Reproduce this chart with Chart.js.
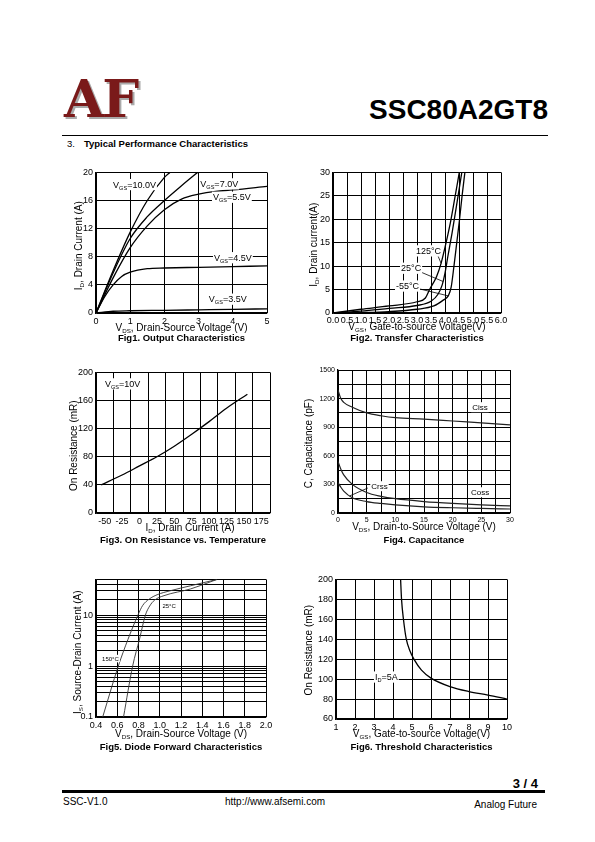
<!DOCTYPE html>
<html>
<head>
<meta charset="utf-8">
<script src="https://cdn.jsdelivr.net/npm/chart.js@4.4.0/dist/chart.umd.min.js"></script>
<style>
  body { margin: 0; background: #fff; }
  #page { position: relative; width: 595px; height: 842px; overflow: hidden; background: #fff;
          font-family: 'Liberation Sans', Arial, sans-serif; color: #000; }
  #page div { position: absolute; line-height: 1; white-space: nowrap; }
  canvas { position: absolute; }
  .logo { left: 64px; top: 73px; font-family: 'DejaVu Serif', serif; font-weight: bold; font-size: 52px;
          color: #7a1a1a; letter-spacing: -2px; text-shadow: 2px 2px 0 #aaa; }
  .pn { right: 47px; top: 96px; font-size: 28px; font-weight: bold; }
  .rule1 { left: 62px; top: 135px; width: 486px; height: 1px; background: #000; }
  .sec { left: 67px; top: 138.7px; font-size: 9.5px; }
  .sec b { margin-left: 9px; }
  .pg { right: 57px; top: 777px; font-size: 13px; font-weight: bold; }
  .rule2 { left: 62px; top: 790px; width: 483px; height: 3px; background: #000; }
  .ft { font-size: 10px; top: 796.5px; }
</style>
</head>
<body>
<div id="page">
  <div class="logo">AF</div>
  <div class="pn">SSC80A2GT8</div>
  <div class="rule1"></div>
  <div class="sec">3.<b>Typical Performance Characteristics</b></div>

  <canvas id="fig1"></canvas>
  <canvas id="fig2"></canvas>
  <canvas id="fig3"></canvas>
  <canvas id="fig4"></canvas>
  <canvas id="fig5"></canvas>
  <canvas id="fig6"></canvas>

  <div class="pg">3 / 4</div>
  <div class="rule2"></div>
  <div class="ft" style="left:63px">SSC-V1.0</div>
  <div class="ft" style="left:225px">http://www.afsemi.com</div>
  <div class="ft" style="right:58px; top:799.5px">Analog Future</div>
</div>

<script>
// ---------- Fig1: output characteristics (Id vs Vds) ----------
const fig1Vds10 = [0, 0.5, 1, 1.5, 2, 2.16];
const fig1Id10  = [0, 6.0, 11.5, 16.0, 19.3, 20];
const fig1Vds7  = [0, 0.5, 1, 1.5, 2, 2.5, 2.97];
const fig1Id7   = [0, 5.7, 10.6, 13.7, 16.0, 18.1, 20];
const fig1Vds55 = [0, 0.5, 1, 1.5, 2, 2.5, 3, 3.5, 4, 5];
const fig1Id55  = [0, 5.0, 9.3, 12.4, 14.7, 16.2, 16.9, 17.3, 17.5, 18.0];
const fig1Vds45 = [0, 0.25, 0.5, 0.75, 1, 1.5, 2, 3, 4, 5];
const fig1Id45  = [0, 2.3, 4.0, 5.2, 5.8, 6.3, 6.4, 6.5, 6.6, 6.7];
const fig1Vds35 = [0, 0.5, 1, 2, 3, 4, 5];
const fig1Id35  = [0, 0.25, 0.32, 0.38, 0.45, 0.52, 0.6];
const fig1XTicks = [0, 1, 2, 3, 4, 5];
const fig1YTicks = [0, 4, 8, 12, 16, 20];

// ---------- Fig2: transfer characteristics (Id vs Vgs) ----------
const fig2Vgs125 = [0, 1, 2, 3, 3.3, 3.45, 3.7, 3.86, 4.0, 4.2, 4.35, 4.51];
const fig2Id125  = [0, 0.8, 1.5, 2.4, 3.2, 5.0, 7.8, 10.6, 14.0, 19.5, 24.5, 30];
const fig2Vgs25  = [0, 1, 2, 3, 3.5, 3.75, 3.9, 4.0, 4.1, 4.25, 4.4, 4.6];
const fig2Id25   = [0, 0.4, 1.0, 1.6, 2.5, 4.0, 6.0, 8.5, 12.0, 17.0, 22.5, 30];
const fig2VgsM55 = [0, 1, 2, 3, 3.6, 3.95, 4.12, 4.22, 4.32, 4.42, 4.52, 4.61, 4.71];
const fig2IdM55  = [0, 0.1, 0.3, 0.8, 1.5, 2.8, 3.7, 5.5, 10, 15, 20, 25, 30];
const fig2XTicks = [0, 0.5, 1, 1.5, 2, 2.5, 3, 3.5, 4, 4.5, 5, 5.5, 6];
const fig2YTicks = [0, 5, 10, 15, 20, 25, 30];

// ---------- Fig3: on resistance vs temperature ----------
const fig3Temp = [-55, -25, 0, 25, 50, 75, 100, 125, 155];
const fig3Ron  = [40, 54, 67, 80, 95, 112, 130, 149, 169];
const fig3XLabels = [-50, -25, 0, 25, 50, 75, 100, 125, 150, 175];
const fig3XGrid   = [-62.5, -37.5, -12.5, 12.5, 37.5, 62.5, 87.5, 112.5, 137.5, 162.5, 187.5];
const fig3YTicks  = [0, 40, 80, 120, 160, 200];

// ---------- Fig4: capacitance ----------
const fig4Vds  = [0, 0.5, 1, 2.5, 5, 7.5, 10, 15, 20, 25, 30];
const fig4Ciss = [1290, 1200, 1160, 1110, 1050, 1020, 1000, 985, 965, 945, 925];
const fig4Coss = [540, 460, 400, 300, 215, 175, 150, 120, 100, 85, 75];
const fig4Crss = [320, 270, 230, 160, 120, 100, 85, 65, 55, 48, 42];
const fig4XGrid = [0, 2.5, 5, 7.5, 10, 12.5, 15, 17.5, 20, 22.5, 25, 27.5, 30];
const fig4XLabels = [0, 5, 10, 15, 20, 25, 30];
const fig4YGrid = [0, 150, 300, 450, 600, 750, 900, 1050, 1200, 1350, 1500];
const fig4YLabels = [0, 300, 600, 900, 1200, 1500];

// ---------- Fig5: diode forward characteristics ----------
const fig5Vsd150 = [0.463, 0.61, 0.7, 0.795, 0.84, 0.9, 0.975, 1.1, 1.29, 1.54];
const fig5Is150  = [0.1, 1, 3.3, 10, 15.5, 20.5, 25, 30, 37.5, 50];
const fig5Vsd25  = [0.659, 0.745, 0.81, 0.865, 0.905, 0.95, 1.04, 1.29, 1.48, 1.54];
const fig5Is25   = [0.1, 1, 3.4, 10, 15, 19.5, 24, 32.5, 45, 50];
const fig5XTicks = [0.4, 0.6, 0.8, 1.0, 1.2, 1.4, 1.6, 1.8, 2.0];
const fig5YLabels = [0.1, 1, 10];
const fig5YGrid = [0.1, 0.2, 0.3, 0.4, 0.5, 0.6, 0.7, 0.8, 0.9, 1, 2, 3, 4, 5, 6, 7, 8, 9, 10, 20, 30, 40, 50];

// ---------- Fig6: threshold characteristics ----------
const fig6Vgs = [4.4, 4.45, 4.55, 4.7, 4.9, 5.1, 5.5, 6, 7, 8, 9, 10];
const fig6Ron = [200, 180, 160, 140, 128, 120, 109, 101, 92.5, 87.5, 84, 80];
const fig6XTicks = [1, 2, 3, 4, 5, 6, 7, 8, 9, 10];
const fig6YTicks = [60, 80, 100, 120, 140, 160, 180, 200];

// ---------------------------------------------------------------
const FONT = "'Liberation Sans', Arial, sans-serif";
const YW = 44, PT = 8, PR = 12, XH = 40;   // axis box sizes around the plot area

function fontStr(size, bold) { return (bold ? 'bold ' : '') + size + 'px ' + FONT; }
function pts(xs, ys) { return xs.map((x, i) => ({ x: x, y: ys[i] })); }
function has(list, v) { return list.some(t => Math.abs(t - v) < 1e-6); }

// text with subscripts: parts beginning with '_' are drawn as subscript
function richWidth(ctx, parts, size, bold) {
  let w = 0;
  parts.forEach(p => {
    const sub = p[0] === '_';
    ctx.font = fontStr(sub ? size * 0.62 : size, bold);
    w += ctx.measureText(sub ? p.slice(1) : p).width;
  });
  return w;
}
function drawRich(ctx, parts, x, y, size, opt) {
  opt = opt || {};
  const w = richWidth(ctx, parts, size, opt.bold);
  let cx = opt.align === 'center' ? x - w / 2 : x;
  if (opt.bg) {
    ctx.fillStyle = '#fff';
    ctx.fillRect(cx - 1, y - size * 0.6, w + 2, size * 1.25);
  }
  ctx.fillStyle = '#000';
  ctx.textAlign = 'left';
  ctx.textBaseline = 'alphabetic';
  const base = y + size * 0.36;
  parts.forEach(p => {
    const sub = p[0] === '_';
    const t = sub ? p.slice(1) : p;
    ctx.font = fontStr(sub ? size * 0.62 : size, opt.bold);
    ctx.fillText(t, cx, sub ? base + size * 0.22 : base);
    cx += ctx.measureText(t).width;
  });
}

function axis(o, dir) {
  return {
    type: o.type || 'linear',
    min: o.min, max: o.max,
    afterFit: s => { if (dir === 'x') s.height = XH; else s.width = YW; },
    afterBuildTicks: s => { s.ticks = o.grid.map(v => ({ value: v })); },
    ticks: {
      autoSkip: false, maxRotation: 0, minRotation: 0,
      padding: o.pad != null ? o.pad : 3,
      color: '#000',
      font: { family: FONT, size: o.fs || 9 },
      callback: v => has(o.labels, v) ? (o.fmt ? o.fmt(v) : String(v)) : ''
    },
    grid: { color: c => (c.tick && has(o.lines || o.grid, c.tick.value)) ? '#000' : 'rgba(0,0,0,0)', lineWidth: 1, drawTicks: false },
    border: { color: '#000', width: 1.3 }
  };
}

function series(data, color, width) {
  return { data: data, borderColor: color || '#000', borderWidth: width || 1.3, pointRadius: 0,
           fill: false, tension: 0.4, cubicInterpolationMode: 'monotone' };
}

function buildChart(id, plot, datasets, xo, yo, deco) {
  const cv = document.getElementById(id);
  const left = plot[0] - YW, top = plot[1] - PT;
  cv.width = plot[2] - left + PR;
  cv.height = plot[3] - top + XH;
  cv.style.left = left + 'px';
  cv.style.top = top + 'px';
  return new Chart(cv, {
    type: 'line',
    data: { datasets: datasets },
    options: {
      responsive: false, animation: false, events: [],
      layout: { padding: { left: 0, top: PT, right: PR, bottom: 0 } },
      plugins: { legend: { display: false }, tooltip: { enabled: false } },
      scales: { x: axis(xo, 'x'), y: axis(yo, 'y') }
    },
    plugins: [{ id: 'deco', afterDraw: c => drawDeco(c, deco) }]
  });
}

function drawDeco(chart, d) {
  const ctx = chart.ctx, a = chart.chartArea;
  const sx = chart.scales.x, sy = chart.scales.y;
  const midX = (a.left + a.right) / 2, midY = (a.top + a.bottom) / 2;
  ctx.save();
  // leader lines
  (d.leaders || []).forEach(l => {
    ctx.beginPath();
    ctx.strokeStyle = '#000';
    ctx.lineWidth = 0.8;
    ctx.moveTo(sx.getPixelForValue(l[0]), sy.getPixelForValue(l[1]));
    ctx.lineTo(sx.getPixelForValue(l[2]), sy.getPixelForValue(l[3]));
    ctx.stroke();
  });
  // curve labels
  (d.notes || []).forEach(n => {
    drawRich(ctx, n.p, sx.getPixelForValue(n.x), sy.getPixelForValue(n.y), n.size || 9, { bg: n.bg !== false });
  });
  // y title (rotated)
  ctx.save();
  ctx.translate(a.left - d.yTitle.dx, midY + (d.yTitle.dy || 0));
  ctx.rotate(-Math.PI / 2);
  drawRich(ctx, d.yTitle.p, 0, 0, d.yTitle.size || 10, { align: 'center' });
  ctx.restore();
  // x title and caption
  drawRich(ctx, d.xTitle.p, midX + (d.xTitle.dx || 0), a.bottom + d.xTitle.dy, d.xTitle.size || 10, { align: 'center' });
  drawRich(ctx, [d.caption.t], midX + (d.caption.dx || 0), a.bottom + d.caption.dy, 9.5, { align: 'center', bold: true });
  ctx.restore();
}

// ---------- Fig1 ----------
buildChart('fig1', [96, 172, 267, 313], [
  series(pts(fig1Vds10, fig1Id10)),
  series(pts(fig1Vds7, fig1Id7)),
  series(pts(fig1Vds55, fig1Id55)),
  series(pts(fig1Vds45, fig1Id45)),
  series(pts(fig1Vds35, fig1Id35))
], { min: 0, max: 5, grid: fig1XTicks, labels: fig1XTicks },
   { min: 0, max: 20, grid: fig1YTicks, labels: fig1YTicks },
{
  yTitle: { p: ['I', '_D', ', Drain Current (A)'], dx: 18, dy: 3 },
  xTitle: { p: ['V', '_DS', ', Drain-Source Voltage (V)'], dy: 14 },
  caption: { t: 'Fig1. Output Characteristics', dy: 25 },
  notes: [
    { p: ['V', '_GS', '=10.0V'], x: 0.5, y: 18.3 },
    { p: ['V', '_GS', '=7.0V'], x: 3.05, y: 18.4 },
    { p: ['V', '_GS', '=5.5V'], x: 3.42, y: 16.5 },
    { p: ['V', '_GS', '=4.5V'], x: 3.45, y: 7.9 },
    { p: ['V', '_GS', '=3.5V'], x: 3.30, y: 2.0 }
  ]
});

// ---------- Fig2 ----------
buildChart('fig2', [333, 172, 501, 313], [
  series(pts(fig2Vgs125, fig2Id125)),
  series(pts(fig2Vgs25, fig2Id25)),
  series(pts(fig2VgsM55, fig2IdM55))
], { min: 0, max: 6, grid: fig2XTicks, labels: fig2XTicks, fmt: v => v.toFixed(1), pad: 2 },
   { min: 0, max: 30, grid: fig2YTicks, labels: fig2YTicks },
{
  yTitle: { p: ['I', '_D', ', Drain current(A)'], dx: 20, dy: 2 },
  xTitle: { p: ['V', '_GS', ', Gate-to-source Voltage(V)'], dy: 13 },
  caption: { t: 'Fig2. Transfer Characteristics', dy: 25 },
  leaders: [[3.72, 12.6, 3.86, 10.6], [3.11, 8.8, 3.94, 6.7], [3.05, 5.2, 4.12, 3.65]],
  notes: [
    { p: ['125°C'], x: 2.96, y: 13.3 },
    { p: ['25°C'], x: 2.43, y: 9.6 },
    { p: ['-55°C'], x: 2.25, y: 5.8 }
  ]
});

// ---------- Fig3 ----------
buildChart('fig3', [96, 372, 270, 513], [
  series(pts(fig3Temp, fig3Ron))
], { min: -62.5, max: 187.5, grid: fig3XGrid.concat(fig3XLabels).sort((a, b) => a - b), lines: fig3XGrid, labels: fig3XLabels },
   { min: 0, max: 200, grid: fig3YTicks, labels: fig3YTicks },
{
  yTitle: { p: ['On Resistance (mR)'], dx: 23, dy: 3 },
  xTitle: { p: ['I', '_D', ', Drain Current (A)'], dy: 14, dx: 7 },
  caption: { t: 'Fig3. On Resistance vs. Temperature', dy: 27 },
  notes: [{ p: ['V', '_GS', '=10V'], x: -49.6, y: 184 }]
});

// ---------- Fig4 ----------
buildChart('fig4', [338, 370, 510, 513], [
  series(pts(fig4Vds, fig4Ciss), '#222', 1.2),
  series(pts(fig4Vds, fig4Coss), '#222', 1.2),
  series(pts(fig4Vds, fig4Crss), '#222', 1.2)
], { min: 0, max: 30, grid: fig4XGrid, labels: fig4XLabels, fs: 7 },
   { min: 0, max: 1500, grid: fig4YGrid, labels: fig4YLabels, fs: 7 },
{
  yTitle: { p: ['C, Capacitance (pF)'], dx: 30, dy: 2 },
  xTitle: { p: ['V', '_DS', ', Drain-to-Source Voltage (V)'], dy: 13 },
  caption: { t: 'Fig4. Capacitance', dy: 27 },
  leaders: [[5.2, 262, 2.0, 178]],
  notes: [
    { p: ['Ciss'], x: 23.4, y: 1112, size: 8 },
    { p: ['Crss'], x: 5.8, y: 283, size: 8 },
    { p: ['Coss'], x: 23.2, y: 220, size: 8 }
  ]
});

// ---------- Fig5 ----------
buildChart('fig5', [96, 579, 266, 717], [
  series(pts(fig5Vsd150, fig5Is150), '#333', 0.9),
  series(pts(fig5Vsd25, fig5Is25), '#333', 0.9)
], { min: 0.4, max: 2.0, grid: fig5XTicks, labels: fig5XTicks, fmt: v => v.toFixed(1) },
   { type: 'logarithmic', min: 0.1, max: 50, grid: fig5YGrid, labels: fig5YLabels },
{
  yTitle: { p: ['I', '_S', ', Source-Drain Current (A)'], dx: 19, dy: 4 },
  xTitle: { p: ['V', '_DS', ', Drain-Source Voltage (V)'], dy: 16 },
  caption: { t: 'Fig5. Diode Forward Characteristics', dy: 30 },
  notes: [
    { p: ['150°C'], x: 0.457, y: 1.41, size: 6 },
    { p: ['25°C'], x: 1.025, y: 15.1, size: 6 }
  ]
});

// ---------- Fig6 ----------
buildChart('fig6', [336, 579, 507, 719], [
  series(pts(fig6Vgs, fig6Ron))
], { min: 1, max: 10, grid: fig6XTicks, labels: fig6XTicks },
   { min: 60, max: 200, grid: fig6YTicks, labels: fig6YTicks },
{
  yTitle: { p: ['On Resistance (mR)'], dx: 28, dy: 1 },
  xTitle: { p: ['V', '_GS', ', Gate-to-source Voltage(V)'], dy: 14 },
  caption: { t: 'Fig6. Threshold Characteristics', dy: 28 },
  notes: [{ p: ['I', '_D', '=5A'], x: 3.05, y: 102.3 }]
});
</script>
</body>
</html>
